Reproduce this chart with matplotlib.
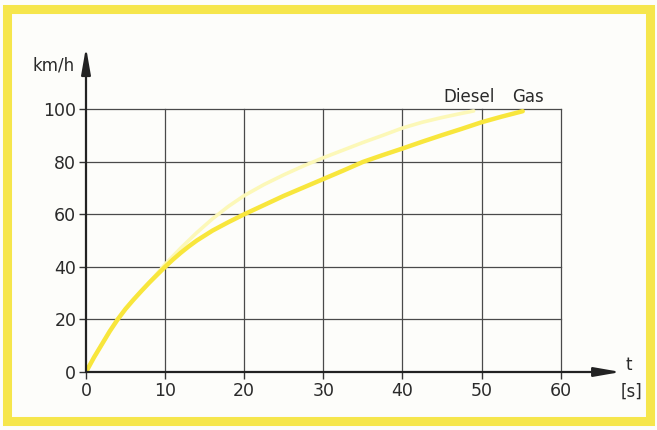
import matplotlib
matplotlib.use('Agg')
import matplotlib.pyplot as plt
from matplotlib.patches import Rectangle

# speed curves (t in s, v in km/h)
t_gas = [0, 1, 2, 3, 4, 5, 6, 7, 8, 9, 10, 11, 12, 13, 14, 16, 18, 20, 22.5, 25, 27.5,
         30, 32.5, 35, 37.5, 40, 42.5, 45, 47.5, 50, 52.5, 55.2]
v_gas = [0, 5.5, 10.5, 15.5, 20, 24, 27.5, 30.8, 34, 37, 40, 42.8, 45.4, 47.8, 50,
         53.8, 57, 60, 63.5, 67, 70.2, 73.4, 76.6, 79.9, 82.5, 85, 87.6, 90.1, 92.5,
         95, 97.1, 99.2]
t_diesel = [0, 1, 2, 3, 4, 5, 6, 7, 8, 9, 10, 12, 14, 16, 18, 20, 22.5, 25, 27.5,
            30, 32.5, 35, 37.5, 40, 42.5, 45, 47.5, 49]
v_diesel = [0, 5.5, 10.5, 15.5, 20, 24, 27.5, 30.8, 34, 37.5, 41, 47.2, 53, 58.3, 63,
            67.1, 71.3, 75, 78.4, 81.5, 84.4, 87.3, 90, 92.8, 95, 96.8, 98.4, 99.3]

x_ticks = [0, 10, 20, 30, 40, 50, 60]
y_ticks = [0, 20, 40, 60, 80, 100]

W, H = 657, 430
fig = plt.figure(figsize=(W / 100, H / 100), dpi=100)
fig.patch.set_facecolor('#fdfdfa')

# yellow frame round the picture
fig.patches.append(Rectangle((7 / W, 9 / H), (W - 14) / W, (H - 18) / H,
                             transform=fig.transFigure, fill=False,
                             edgecolor='#f6e64c', linewidth=6.5))

x0, x1, y0, y1 = 86, 624, 372, 46
ax = fig.add_axes([x0 / W, (H - y0) / H, (x1 - x0) / W, (y0 - y1) / H])
ax.set_xlim(0, 68)
ax.set_ylim(0, 124)
ax.patch.set_alpha(0)
for s in ax.spines.values():
    s.set_visible(False)

grid_c = '#4a4a4a'
for x in x_ticks[1:]:
    ax.plot([x, x], [0, 100], color=grid_c, lw=0.9, zorder=1)
for y in y_ticks[1:]:
    ax.plot([0, 60], [y, y], color=grid_c, lw=0.9, zorder=1)

ax.plot(t_diesel, v_diesel, color='#fcf8b8', lw=2.6, solid_capstyle='round',
        solid_joinstyle='round', zorder=2)
ax.plot(t_gas, v_gas, color='#f8e63c', lw=3.2, solid_capstyle='round',
        solid_joinstyle='round', zorder=3)

arrow = dict(arrowstyle='-|>,head_length=1.6,head_width=0.28', color='#222222',
             lw=1.6, shrinkA=0, shrinkB=0)
ax.annotate('', xy=(67.6, 0), xytext=(0, 0), arrowprops=arrow, annotation_clip=False)
ax.annotate('', xy=(0, 123.5), xytext=(0, 0), arrowprops=arrow, annotation_clip=False)

ax.set_xticks(x_ticks)
ax.set_yticks(y_ticks)
ax.tick_params(direction='out', length=5, width=1, color='#333333',
               labelsize=12.5, labelcolor='#2a2a2a', pad=2)

txt = dict(fontsize=12, color='#2a2a2a')
ax.text(-1.5, 116.5, 'km/h', ha='right', va='center', **txt)
ax.text(45.2, 104.6, 'Diesel', ha='left', va='center', **txt)
ax.text(53.9, 104.6, 'Gas', ha='left', va='center', **txt)
ax.text(68.2, 2.6, 't', ha='left', va='center', **txt)
ax.text(67.6, -7.5, '[s]', ha='left', va='center', **txt)

fig.savefig('out.png', dpi=100, facecolor=fig.get_facecolor())
